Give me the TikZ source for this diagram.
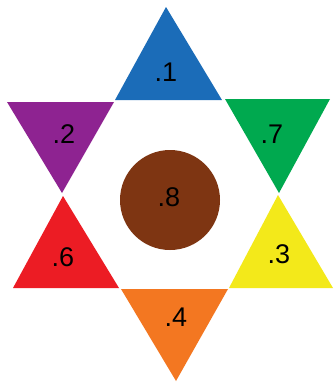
\documentclass[tikz,border=0pt]{standalone}
\usepackage{fontspec}
\setmainfont{Liberation Sans}
\definecolor{cblue}{HTML}{1B6CB8}
\definecolor{cpurple}{HTML}{8E2391}
\definecolor{cgreen}{HTML}{00A94F}
\definecolor{cred}{HTML}{EC1C24}
\definecolor{cyellow}{HTML}{F3E91A}
\definecolor{corange}{HTML}{F37721}
\definecolor{cbrown}{HTML}{7E3512}
\begin{document}
\begin{tikzpicture}[x=1pt,y=-1pt,
  lbl/.style={font=\fontsize{27}{27}\selectfont, text=black, inner sep=0pt}]
\useasboundingbox (0,0) rectangle (334,386);
\fill[white] (0,0) rectangle (334,386);
\fill[cblue] (166,7) -- (115,100) -- (222,100) -- cycle;
\fill[cpurple] (7,102) -- (114,102) -- (62,193) -- cycle;
\fill[cgreen] (225,99) -- (330,99) -- (279,193) -- cycle;
\fill[cred] (63,196) -- (13,288) -- (119,288) -- cycle;
\fill[cyellow] (278,195) -- (229,288) -- (333,288) -- cycle;
\fill[corange] (121,289) -- (228,289) -- (176,381) -- cycle;
\fill[cbrown] (170,200) circle (50);
\node[lbl] (n1) at (166,72) {.1};
\node[lbl] (n2) at (64,134) {.2};
\node[lbl] (n7) at (272,134) {.7};
\node[lbl] (n8) at (169,197) {.8};
\node[lbl] (n6) at (63,257) {.6};
\node[lbl] (n3) at (279,254) {.3};
\node[lbl] (n4) at (176,317) {.4};
\end{tikzpicture}
\end{document}
